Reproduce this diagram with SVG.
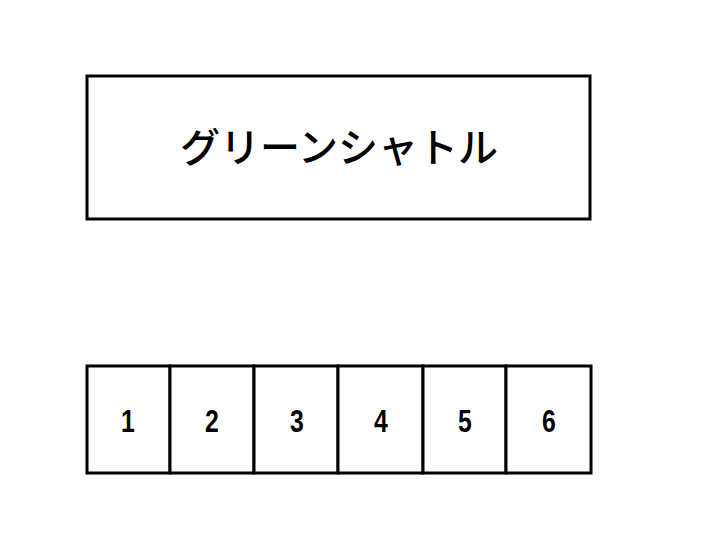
<svg xmlns="http://www.w3.org/2000/svg" width="706" height="559" viewBox="0 0 706 559">
<style>
.box{fill:#fff;stroke:#000;stroke-width:3}
.t{font-family:"Noto Sans CJK JP","Liberation Sans",sans-serif;font-size:40px;font-weight:500;fill:#000;text-anchor:middle}
.n{font-family:"Liberation Sans",Arial,sans-serif;font-size:31px;font-weight:bold;fill:#000;text-anchor:middle}
</style>
<rect width="706" height="559" fill="#fff"/>
<g id="title">
<rect class="box" x="87" y="76" width="503" height="143"/>
<text class="t" x="339" y="162">グリーンシャトル</text>
</g>
<g id="cells">
<g id="c1"><rect class="box" x="87" y="366" width="83" height="107"/><text class="n" x="128" y="432" transform="translate(128 0) scale(0.8 1) translate(-128 0)">1</text></g>
<g id="c2"><rect class="box" x="170" y="366" width="84" height="107"/><text class="n" x="212" y="432" transform="translate(212 0) scale(0.8 1) translate(-212 0)">2</text></g>
<g id="c3"><rect class="box" x="254" y="366" width="84" height="107"/><text class="n" x="297" y="432" transform="translate(297 0) scale(0.8 1) translate(-297 0)">3</text></g>
<g id="c4"><rect class="box" x="338" y="366" width="85" height="107"/><text class="n" x="381" y="432" transform="translate(381 0) scale(0.8 1) translate(-381 0)">4</text></g>
<g id="c5"><rect class="box" x="423" y="366" width="83" height="107"/><text class="n" x="465" y="432" transform="translate(465 0) scale(0.8 1) translate(-465 0)">5</text></g>
<g id="c6"><rect class="box" x="506" y="366" width="85" height="107"/><text class="n" x="549" y="432" transform="translate(549 0) scale(0.8 1) translate(-549 0)">6</text></g>
</g>
<g id="connectors"></g>
</svg>
